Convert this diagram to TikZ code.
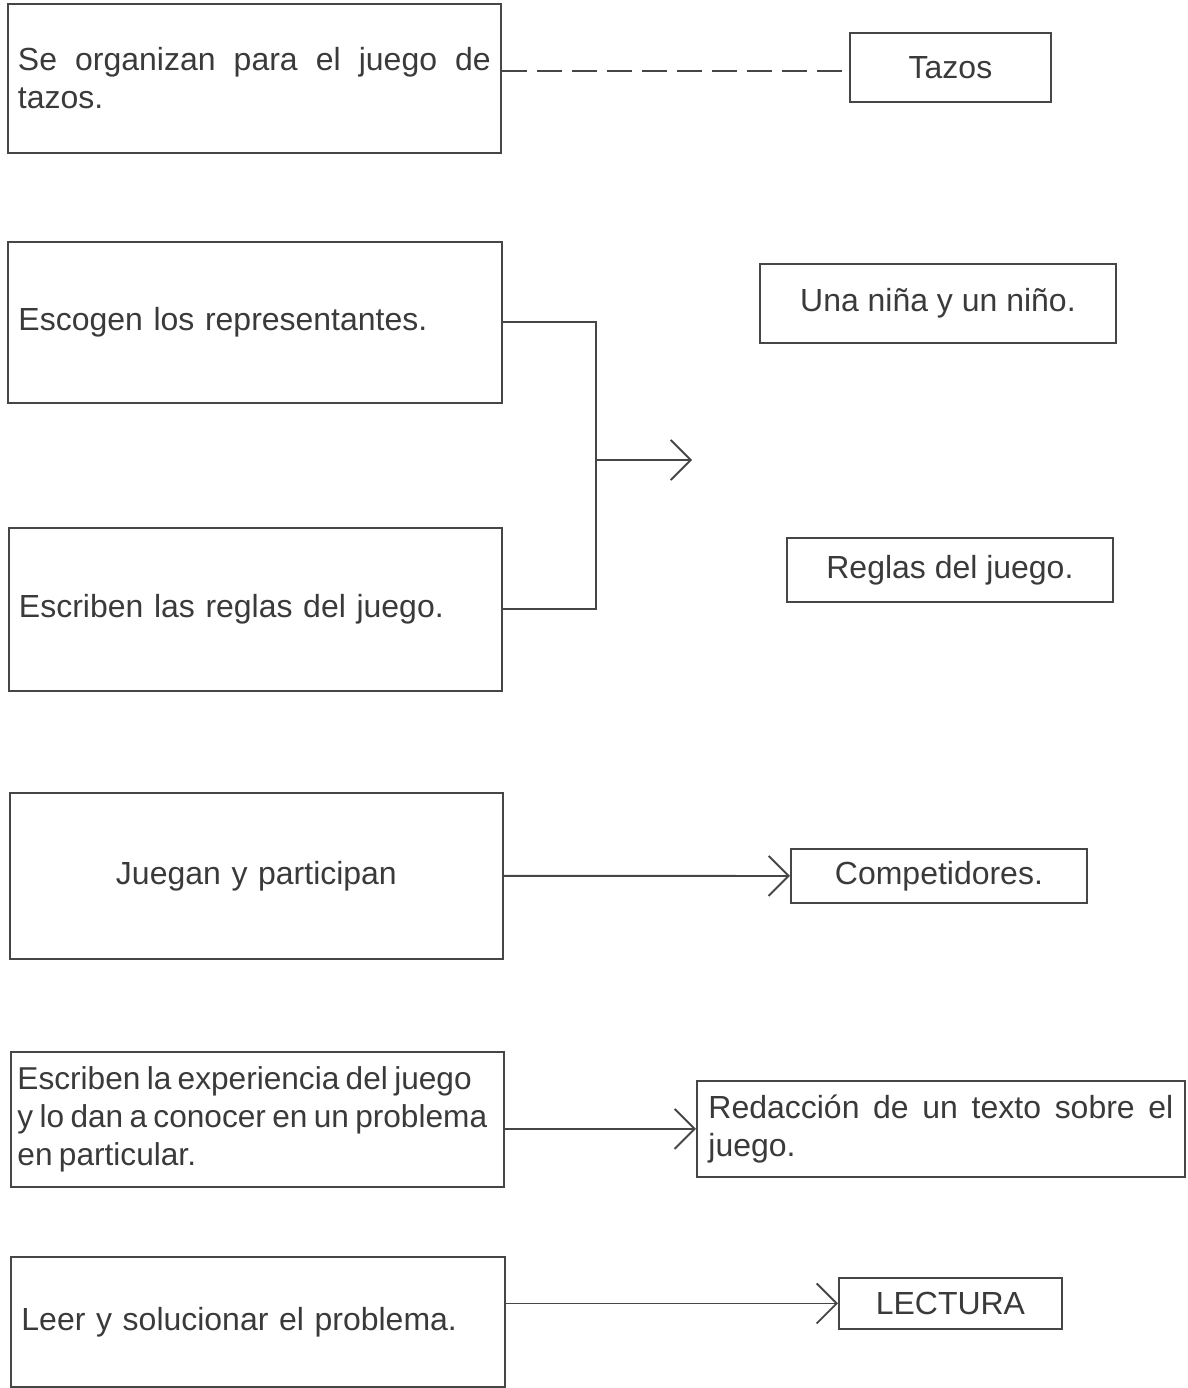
\documentclass[tikz,border=0pt]{standalone}
\usepackage{fontspec}
\setmainfont{Liberation Sans}
\usetikzlibrary{arrows.meta, calc}
\definecolor{ink}{RGB}{58,58,58}
\definecolor{rule}{RGB}{70,70,70}
\tikzset{
  stepbox/.style={rectangle, draw=rule, line width=1.1pt, anchor=north west,
                  inner xsep=0.2cm, inner ysep=0pt, text width=9.46cm, align=left,
                  text=ink, font=\fontsize{18.2}{21.6}\selectfont},
  tagbox/.style={rectangle, draw=rule, line width=1.1pt, anchor=north west,
                 inner sep=0pt, align=center, text=ink,
                 font=\fontsize{18.2}{21.6}\selectfont},
  arrow/.style={-{Straight Barb[length=0.4cm, width=0.8cm]}, line width=1.1pt, color=rule},
  link/.style={line width=1.1pt, color=rule},
}
\begin{document}
\begin{tikzpicture}[x=0.02cm, y=-0.02cm]
  \useasboundingbox (0,0) rectangle (1187,1388);

  \node[stepbox, minimum width=9.86cm, minimum height=2.98cm, align=justify] (organizan) at (7,3)
    {Se organizan para el juego de\linebreak tazos.};
  \node[tagbox, minimum width=4.02cm, minimum height=1.38cm] (tazos) at (849,32) {Tazos};
  \draw[link, dash pattern=on 0.5cm off 0.2cm] ($(tazos.west -| organizan.east)+(0,4)$) -- ($(tazos.west)+(0,4)$);

  \node[stepbox, minimum width=9.88cm, minimum height=3.22cm] (escogen) at (7,241)
    {Escogen los representantes.};
  \node[stepbox, minimum width=9.86cm, minimum height=3.26cm] (reglas) at (8,527)
    {Escriben las reglas del juego.};
  \node[tagbox, minimum width=7.12cm, minimum height=1.58cm] (nina) at (759,263)
    {Una niña y un niño.};
  \node[tagbox, minimum width=6.52cm, minimum height=1.28cm] (reglasjuego) at (786,537)
    {Reglas del juego.};
  \coordinate (junta) at (596,460);
  \coordinate (punta) at (692,460);
  \draw[link] (escogen.east) -| (junta) |- (reglas.east);
  \draw[arrow] (junta) -- (punta);

  \node[stepbox, minimum width=9.86cm, minimum height=3.32cm, align=center] (juegan) at (9,792)
    {Juegan y participan};
  \node[tagbox, minimum width=5.92cm, minimum height=1.08cm] (compet) at (790,848)
    {Competidores.};
  \draw[arrow] (juegan) -- (compet);

  \node[stepbox, minimum width=9.86cm, minimum height=2.70cm, text width=9.6cm,
        inner xsep=0.13cm, font=\fontsize{18}{21.6}\selectfont] (experiencia) at (10,1051)
    {\spaceskip=0.2em\relax Escriben la experiencia del juego\\y lo dan a conocer en un problema\\en particular.};
  \node[tagbox, minimum width=9.76cm, minimum height=1.92cm, text width=9.3cm,
        align=justify] (redaccion) at (696,1080)
    {Redacción de un texto sobre el\linebreak juego.};
  \draw[arrow] (redaccion.west -| experiencia.east) -- (redaccion.west);

  \node[stepbox, minimum width=9.88cm, minimum height=2.60cm] (leer) at (10,1256)
    {Leer y solucionar el problema.};
  \node[tagbox, minimum width=4.46cm, minimum height=1.02cm] (lectura) at (838,1277)
    {LECTURA};
  \draw[arrow] (lectura.west -| leer.east) -- (lectura.west);
\end{tikzpicture}
\end{document}
